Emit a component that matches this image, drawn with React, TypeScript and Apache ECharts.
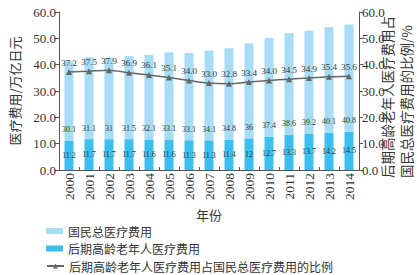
import React, { useEffect, useRef } from "react";
import * as echarts from "echarts";

const years = ["2000","2001","2002","2003","2004","2005","2006","2007","2008","2009","2010","2011","2012","2013","2014"];
const totalCost = [30.1, 31.1, 31.0, 31.5, 32.1, 33.1, 33.1, 34.1, 34.8, 36.0, 37.4, 38.6, 39.2, 40.1, 40.8];
const elderlyCost = [11.2, 11.7, 11.7, 11.7, 11.6, 11.6, 11.3, 11.3, 11.4, 12, 12.7, 13.3, 13.7, 14.2, 14.5];
const ratio = [37.2, 37.5, 37.9, 36.9, 36.1, 35.1, 34.0, 33.0, 32.8, 33.4, 34.0, 34.5, 34.9, 35.4, 35.6];
const legendNames = ["国民总医疗费用", "后期高龄老年人医疗费用", "后期高龄老年人医疗费用占国民总医疗费用的比例"];
const leftAxisName = "医疗费用/万亿日元";
const rightAxisLines = ["后期高龄老年人医疗费用占", "国民总医疗费用的比例/%"];
const xAxisName = "年份";

const FONT = "'Liberation Serif', 'Noto Sans CJK SC', serif";
const CJK = "'Noto Sans CJK SC', 'Liberation Serif', serif";

export default function App() {
  const ref = useRef<HTMLDivElement>(null);
  useEffect(() => {
    if (!ref.current) return;
    const chart = echarts.init(ref.current, null, { renderer: "svg" });
    const valueAxis = (pos: "left" | "right") => ({
      type: "value",
      position: pos,
      min: 0,
      max: 60,
      interval: 10,
      splitLine: { show: false },
      axisLine: { show: true, lineStyle: { color: "#555", width: 1 } },
      axisTick: { show: true, length: 4, lineStyle: { color: "#555" } },
      axisLabel: {
        formatter: (v: number) => v.toFixed(1),
        fontFamily: FONT,
        fontSize: 13,
        color: "#333",
        margin: 3,
      },
    });
    const legendTops = [224, 241.5, 259];
    chart.setOption({
      animation: false,
      textStyle: { fontFamily: FONT },
      grid: { left: 47, right: 58, top: 12, bottom: 105, containLabel: false },
      legend: legendNames.map((n, i) => ({
        orient: "vertical",
        left: 46,
        top: legendTops[i],
        itemWidth: 17,
        itemHeight: 6,
        padding: 0,
        textStyle: { fontFamily: CJK, fontSize: 12, lineHeight: 14, color: "#333" },
        data: [i < 2 ? { name: n, icon: "rect" } : { name: n }],
      })),
      xAxis: {
        type: "category",
        data: years,
        name: xAxisName,
        nameLocation: "middle",
        nameGap: 38,
        nameTextStyle: { fontFamily: CJK, fontSize: 13, color: "#333" },
        axisLine: { lineStyle: { color: "#555" } },
        axisTick: { show: true, inside: true, length: 3, lineStyle: { color: "#555" } },
        axisLabel: { rotate: 90, fontFamily: FONT, fontSize: 13.5, color: "#333", margin: 3 },
      },
      yAxis: [
        {
          ...valueAxis("left"),
          name: leftAxisName,
          nameLocation: "middle",
          nameGap: 38,
          nameTextStyle: { fontFamily: CJK, fontSize: 13, color: "#333" },
        },
        valueAxis("right"),
      ],
      graphic: rightAxisLines.map((t, i) => ({
        type: "text",
        x: 387 + i * 19,
        y: 178,
        rotation: Math.PI / 2,
        style: {
          text: t,
          fontFamily: CJK,
          fontSize: 13.5,
          fill: "#333",
          align: "left",
          verticalAlign: "middle",
        },
      })),
      series: [
        {
          name: legendNames[1],
          type: "bar",
          stack: "s",
          data: elderlyCost,
          barWidth: 9,
          itemStyle: { color: "#3bbfee" },
          label: {
            show: true,
            position: "inside",
            fontFamily: FONT,
            fontSize: 8,
            color: "#333",
          },
        },
        {
          name: legendNames[0],
          type: "bar",
          stack: "s",
          data: totalCost,
          barWidth: 9,
          itemStyle: { color: "#a7dcf5" },
          label: {
            show: true,
            position: "insideBottom",
            distance: 7,
            fontFamily: FONT,
            fontSize: 8,
            color: "#333",
          },
        },
        {
          name: legendNames[2],
          type: "line",
          yAxisIndex: 1,
          data: ratio,
          symbol: "triangle",
          symbolSize: 6,
          smooth: 0.3,
          lineStyle: { color: "#666", width: 1.5 },
          itemStyle: { color: "#666" },
          label: {
            show: true,
            position: "top",
            distance: 2,
            fontFamily: FONT,
            fontSize: 9,
            color: "#333",
            formatter: (p: any) => Number(p.value).toFixed(1),
          },
        },
      ],
    });
    return () => chart.dispose();
  }, []);
  return <div ref={ref} style={{ width: 417, height: 275, position: "absolute", left: 0, top: 0 }} />;
}
